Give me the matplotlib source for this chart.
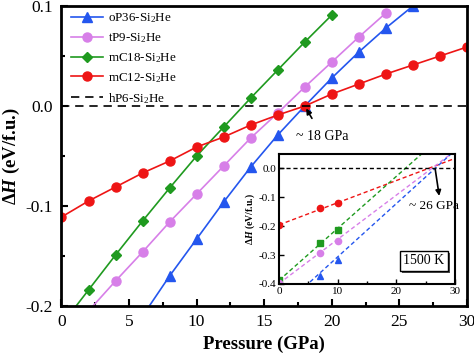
import matplotlib
matplotlib.use("Agg")
import matplotlib.pyplot as plt
import matplotlib.patheffects as pe

plt.rcParams["font.family"] = ["Liberation Serif", "DejaVu Serif"]
plt.rcParams["mathtext.fontset"] = "custom"
plt.rcParams["mathtext.rm"] = "Liberation Serif"
plt.rcParams["mathtext.it"] = "Liberation Serif:italic:bold"
plt.rcParams["mathtext.bf"] = "Liberation Serif:bold"

# main panel: enthalpy difference vs pressure (0 K)
p_op36 = [6, 8, 10, 12, 14, 16, 18, 20, 22, 24, 26]
h_op36 = [-0.210, -0.170, -0.133, -0.096, -0.061, -0.029, 0.000, 0.028, 0.054, 0.078, 0.100]

p_tp9 = [2, 4, 6, 8, 10, 12, 14, 16, 18, 20, 22, 24]
h_tp9 = [-0.205, -0.175, -0.146, -0.116, -0.088, -0.060, -0.032, -0.007, 0.019, 0.044, 0.069, 0.093]

p_mc18 = [0, 2, 4, 6, 8, 10, 12, 14, 16, 18, 20]
h_mc18 = [-0.219, -0.184, -0.149, -0.115, -0.082, -0.050, -0.021, 0.008, 0.036, 0.064, 0.091]

p_mc12 = [0, 2, 4, 6, 8, 10, 12, 14, 16, 18, 20, 22, 24, 26, 28, 30]
h_mc12 = [-0.111, -0.095, -0.081, -0.067, -0.055, -0.041, -0.031, -0.019, -0.009, 0.000,
          0.012, 0.022, 0.032, 0.041, 0.050, 0.059]

# inset: 1500 K points and fitted lines (end values read at 0 and 30 GPa)
ins_p_red = [0, 7, 10]
ins_h_red = [-0.195, -0.137, -0.118]
ins_p_green = [0, 7, 10]
ins_h_green = [-0.387, -0.259, -0.212]
ins_p_pink = [0, 7, 10]
ins_h_pink = [-0.398, -0.293, -0.250]
ins_p_blue = [7, 10]
ins_h_blue = [-0.374, -0.316]

fit_p = [0, 30]
fit_red = [-0.195, 0.035]
fit_green = [-0.387, 0.153]
fit_pink = [-0.398, 0.061]
fit_blue = [-0.490, 0.063]

c_blue = "#2456ee"
c_pink = "#d77fe8"
c_green = "#1f9a1f"
c_red = "#ee1515"

fig = plt.figure(figsize=(4.74, 3.57), dpi=100)
ax = fig.add_axes([0.1297, 0.1429, 0.8553, 0.8401])

lw = 1.2
ms = 6
ax.plot(p_op36, h_op36, color=c_blue, marker="^", ms=ms + 1, lw=lw, label="oP36-Si$_2$He")
ax.plot(p_tp9, h_tp9, color=c_pink, marker="o", ms=ms + 0.5, lw=lw, label="tP9-Si$_2$He")
ax.plot(p_mc18, h_mc18, color=c_green, marker="D", ms=ms - 0.5, lw=lw, label="mC18-Si$_2$He")
ax.plot(p_mc12, h_mc12, color=c_red, marker="o", ms=ms + 0.5, lw=lw, label="mC12-Si$_2$He")
ax.axhline(0, color="black", lw=lw, dashes=[5, 3.5], label="hP6-Si$_2$He")

ax.set_xlim(0, 30)
ax.set_ylim(-0.2, 0.1)
ax.set_xticks([0, 5, 10, 15, 20, 25, 30])
ax.set_xticks([2.5, 7.5, 12.5, 17.5, 22.5, 27.5], minor=True)
ax.set_yticks([-0.2, -0.1, 0.0, 0.1])
ax.set_yticklabels(["-0.2", "-0.1", "0.0", "0.1"])
ax.set_yticks([-0.15, -0.05, 0.05], minor=True)
ax.tick_params(which="both", direction="in", labelsize=12.5, width=1.5)
ax.tick_params(which="major", length=5, pad=6)
ax.tick_params(which="minor", length=3)
for s in ax.spines.values():
    s.set_linewidth(2)

ax.set_xlabel("Pressure (GPa)", fontsize=13.5, fontweight="bold", labelpad=4)
ax.set_ylabel("Δ$\\mathit{H}$ (eV/f.u.)", fontsize=13.5, fontweight="bold", labelpad=3)

ax.legend(loc="upper left", bbox_to_anchor=(0.0, 1.012), frameon=False, fontsize=9.4,
          handlelength=2.5, handletextpad=0.35, labelspacing=0.46, borderaxespad=0.3)

ax.annotate("~ 18 GPa", xy=(18.0, 0.0), xytext=(19.3, -0.03),
            fontsize=10, ha="center", va="center",
            arrowprops=dict(arrowstyle="-|>", color="black", lw=1.2,
                            shrinkA=7, shrinkB=2, mutation_scale=8))

# inset
ins = fig.add_axes([0.589, 0.2045, 0.371, 0.364])
ins.plot(fit_p, fit_red, color=c_red, lw=1, dashes=[3, 2])
ins.plot(fit_p, fit_green, color=c_green, lw=1, dashes=[3, 2])
ins.plot(fit_p, fit_pink, color=c_pink, lw=1, dashes=[3, 2])
ins.plot(fit_p, fit_blue, color=c_blue, lw=1, dashes=[3, 2])
ins.plot(ins_p_red, ins_h_red, ls="none", marker="o", color=c_red, ms=4.5)
ins.plot(ins_p_green, ins_h_green, ls="none", marker="s", color=c_green, ms=4.5)
ins.plot(ins_p_pink, ins_h_pink, ls="none", marker="o", color=c_pink, ms=4.5)
ins.plot(ins_p_blue, ins_h_blue, ls="none", marker="^", color=c_blue, ms=5)
ins.axhline(0, color="black", lw=1, dashes=[3, 2])

ins.set_xlim(0, 30)
ins.set_ylim(-0.4, 0.05)
ins.set_xticks([0, 10, 20, 30])
ins.set_xticks([5, 15, 25], minor=True)
ins.set_yticks([-0.4, -0.3, -0.2, -0.1, 0.0])
ins.set_yticklabels(["-0.4", "-0.3", "-0.2", "-0.1", "0.0"])
ins.tick_params(which="both", direction="in", labelsize=8, width=1)
ins.tick_params(which="major", length=3.5, pad=2)
ins.tick_params(which="minor", length=2)
for s in ins.spines.values():
    s.set_linewidth(1.5)
ins.set_ylabel("Δ$\\mathit{H}$ (eV/f.u.)", fontsize=7, fontweight="bold", labelpad=1)

ins.annotate("", xy=(27.3, -0.095), xytext=(26.6, 0.0),
             arrowprops=dict(arrowstyle="-|>", color="black", lw=1.2,
                             shrinkA=0, shrinkB=0, mutation_scale=8))
ins.text(26.4, -0.13, "~ 26 GPa", fontsize=9.5, ha="center", va="center")
tk = ins.text(24.7, -0.32, "1500 K", fontsize=10, ha="center", va="center",
              bbox=dict(boxstyle="square,pad=0.25", fc="white", ec="black", lw=1))
tk.get_bbox_patch().set_path_effects([
    pe.SimplePatchShadow(offset=(1.5, -1.5), shadow_rgbFace="black", alpha=0.7),
    pe.Normal(),
])

fig.savefig("out.png", dpi=100)
